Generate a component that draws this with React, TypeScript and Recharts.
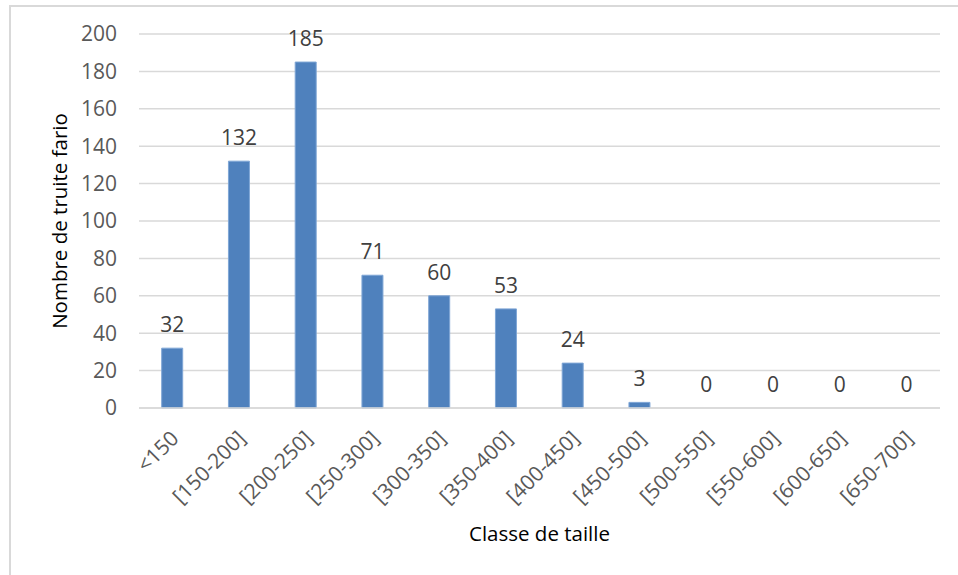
import React from "react";
import { ComposedChart, Bar, Line, XAxis, YAxis, CartesianGrid, LabelList, Label } from "recharts";

const categories = ["<150", "[150-200]", "[200-250]", "[250-300]", "[300-350]", "[350-400]", "[400-450]", "[450-500]", "[500-550]", "[550-600]", "[600-650]", "[650-700]"];
const counts = [32, 132, 185, 71, 60, 53, 24, 3, 0, 0, 0, 0];
const yTicks = [0, 20, 40, 60, 80, 100, 120, 140, 160, 180, 200];

const data = categories.map((c, i) => ({ classe: c, n: counts[i] }));

const FONT = "'Open Sans', sans-serif";
const FS = 21;
const TS = 20.5;

const XTick = (props: any) => {
  const { x, y, payload } = props;
  return (
    <g transform={`translate(${x + 2},${y + 18})`}>
      <text
        x={0}
        y={0}
        transform="rotate(-45)"
        textAnchor="end"
        dominantBaseline="central"
        fill="#595959"
        fontSize={FS}
        fontFamily={FONT}
      >
        {payload.value}
      </text>
    </g>
  );
};

export default function App() {
  return (
    <div style={{ position: "absolute", left: 0, top: 0, width: 958, height: 575, background: "#fff", overflow: "hidden" }}>
      <div
        style={{
          position: "absolute",
          left: 9,
          top: 5,
          width: 1000,
          height: 700,
          border: "2px solid #d9d9d9",
          boxSizing: "border-box",
        }}
      />
      <ComposedChart
        width={958}
        height={575}
        data={data}
        margin={{ top: 34, right: 18, bottom: 0, left: 0 }}
        barCategoryGap="34%"
        style={{ position: "absolute", left: 0, top: 0 }}
      >
        <CartesianGrid vertical={false} stroke="#d9d9d9" strokeWidth={1.5} />
        <XAxis
          dataKey="classe"
          interval={0}
          tick={<XTick />}
          tickLine={false}
          axisLine={{ stroke: "#d9d9d9", strokeWidth: 1.5 }}
          height={167}
        >
          <Label value="Classe de taille" position="insideBottom" offset={34} fill="#000" fontSize={TS} fontFamily={FONT} />
        </XAxis>
        <YAxis
          domain={[0, 200]}
          ticks={yTicks}
          width={139}
          tickLine={false}
          axisLine={false}
          tickSize={0}
          tickMargin={22}
          tick={{ fill: "#595959", fontSize: FS, fontFamily: FONT }}
        >
          <Label value="Nombre de truite fario" angle={-90} position="insideLeft" offset={60} style={{ textAnchor: "middle" }} fill="#000" fontSize={TS} fontFamily={FONT} />
        </YAxis>
        <Bar dataKey="n" fill="#4f81bd" stroke="#7fa6d6" strokeWidth={1} isAnimationActive={false} />
        <Line dataKey="n" stroke="none" dot={false} activeDot={false} isAnimationActive={false} legendType="none">
          <LabelList dataKey="n" position="top" offset={16} fill="#404040" fontSize={FS} fontFamily={FONT} />
        </Line>
      </ComposedChart>
    </div>
  );
}
